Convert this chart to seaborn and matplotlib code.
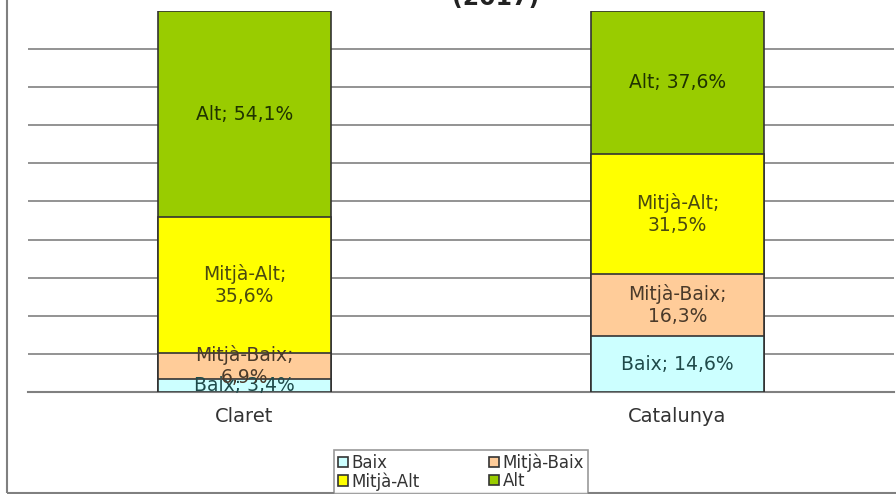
import matplotlib
matplotlib.use("Agg")
import matplotlib.pyplot as plt
from matplotlib.patches import Patch, Rectangle
import numpy as np
import pandas as pd
import seaborn as sns

# -------------------------------
# Data
# -------------------------------
regions = ["Claret", "Catalunya"]
levels = ["Baix", "Mitjà-Baix", "Mitjà-Alt", "Alt"]
baix = [3.4, 14.6]
mitja_baix = [6.9, 16.3]
mitja_alt = [35.6, 31.5]
alt = [54.1, 37.6]
title = "(2017)"

colors = {"Baix": "#CCFFFF", "Mitjà-Baix": "#FFCC99", "Mitjà-Alt": "#FFFF00", "Alt": "#99CC00"}
text_colors = {"Baix": "#1f4a4a", "Mitjà-Baix": "#4a3a2a", "Mitjà-Alt": "#4a4a10", "Alt": "#1f3300"}

df = pd.DataFrame({"region": regions, "Baix": baix, "Mitjà-Baix": mitja_baix,
                   "Mitjà-Alt": mitja_alt, "Alt": alt})
cum = df[levels].cumsum(axis=1)

sns.set_style("white")
plt.rcParams["font.family"] = ["DejaVu Sans"]

fig = plt.figure(figsize=(8.96, 4.94), dpi=100)
ax = fig.add_axes([28 / 896, 1 - 392 / 494, 866 / 896, 381 / 494])

# stacked bars: draw cumulative totals from the top level down
for lev in reversed(levels):
    sns.barplot(x=df["region"], y=cum[lev], color=colors[lev], width=0.4,
                edgecolor="#333333", linewidth=1.2, saturation=1, ax=ax, zorder=3)

# segment labels
for i, reg in enumerate(regions):
    bottom = 0
    for lev in levels:
        v = df.loc[i, lev]
        val = f"{v:.1f}".replace(".", ",") + "%"
        if lev.startswith("Mitjà"):
            txt = f"{lev};\n{val}"
        else:
            txt = f"{lev}; {val}"
        ax.text(i, bottom + v / 2, txt, ha="center", va="center", fontsize=13.5,
                color=text_colors[lev], linespacing=1.2, zorder=5)
        bottom += v

ax.set_xlim(-0.5, 1.5)
ax.set_ylim(0, 100)
ax.set_yticks(range(10, 100, 10))
ax.yaxis.grid(True, color="#808080", linewidth=1.2)
ax.set_axisbelow(True)
ax.tick_params(axis="y", length=0, labelleft=False)
ax.tick_params(axis="x", length=0, pad=11, labelsize=14, labelcolor="#333333")
ax.set_xticks([-0.5, 1.5], minor=True)
ax.tick_params(axis="x", which="minor", length=4, color="#808080", width=1.5)
ax.set_xlabel("")
ax.set_ylabel("")
for s in ["left", "top", "right"]:
    ax.spines[s].set_visible(False)
ax.spines["bottom"].set_color("#808080")
ax.spines["bottom"].set_linewidth(1.5)

# legend (row order: Baix | Mitjà-Baix, Mitjà-Alt | Alt)
order = ["Baix", "Mitjà-Alt", "Mitjà-Baix", "Alt"]
handles = [Patch(facecolor=colors[l], edgecolor="#333333", linewidth=1.2) for l in order]
leg = fig.legend(handles, order, loc="center", bbox_to_anchor=(461 / 896, 1 - 472 / 494),
                 ncol=2, fontsize=12, frameon=True, fancybox=False, edgecolor="#808080",
                 handlelength=0.6, handleheight=0.6, handletextpad=0.2, columnspacing=4.2,
                 labelspacing=0.0, borderpad=0.2, borderaxespad=0)
leg.get_frame().set_linewidth(1.2)
for t in leg.get_texts():
    t.set_color("#333333")

# title, cut off by the top edge as in the reference
fig.text(0.553, 0.99, title, ha="center", va="baseline", fontsize=17, fontweight="bold",
         color="#222222")

# outer chart border
fig.patches.append(Rectangle((7 / 896, 1 / 494), 1.2, 1.2, transform=fig.transFigure,
                             fill=False, edgecolor="#808080", linewidth=1.5))

fig.savefig("out.png", dpi=100)
